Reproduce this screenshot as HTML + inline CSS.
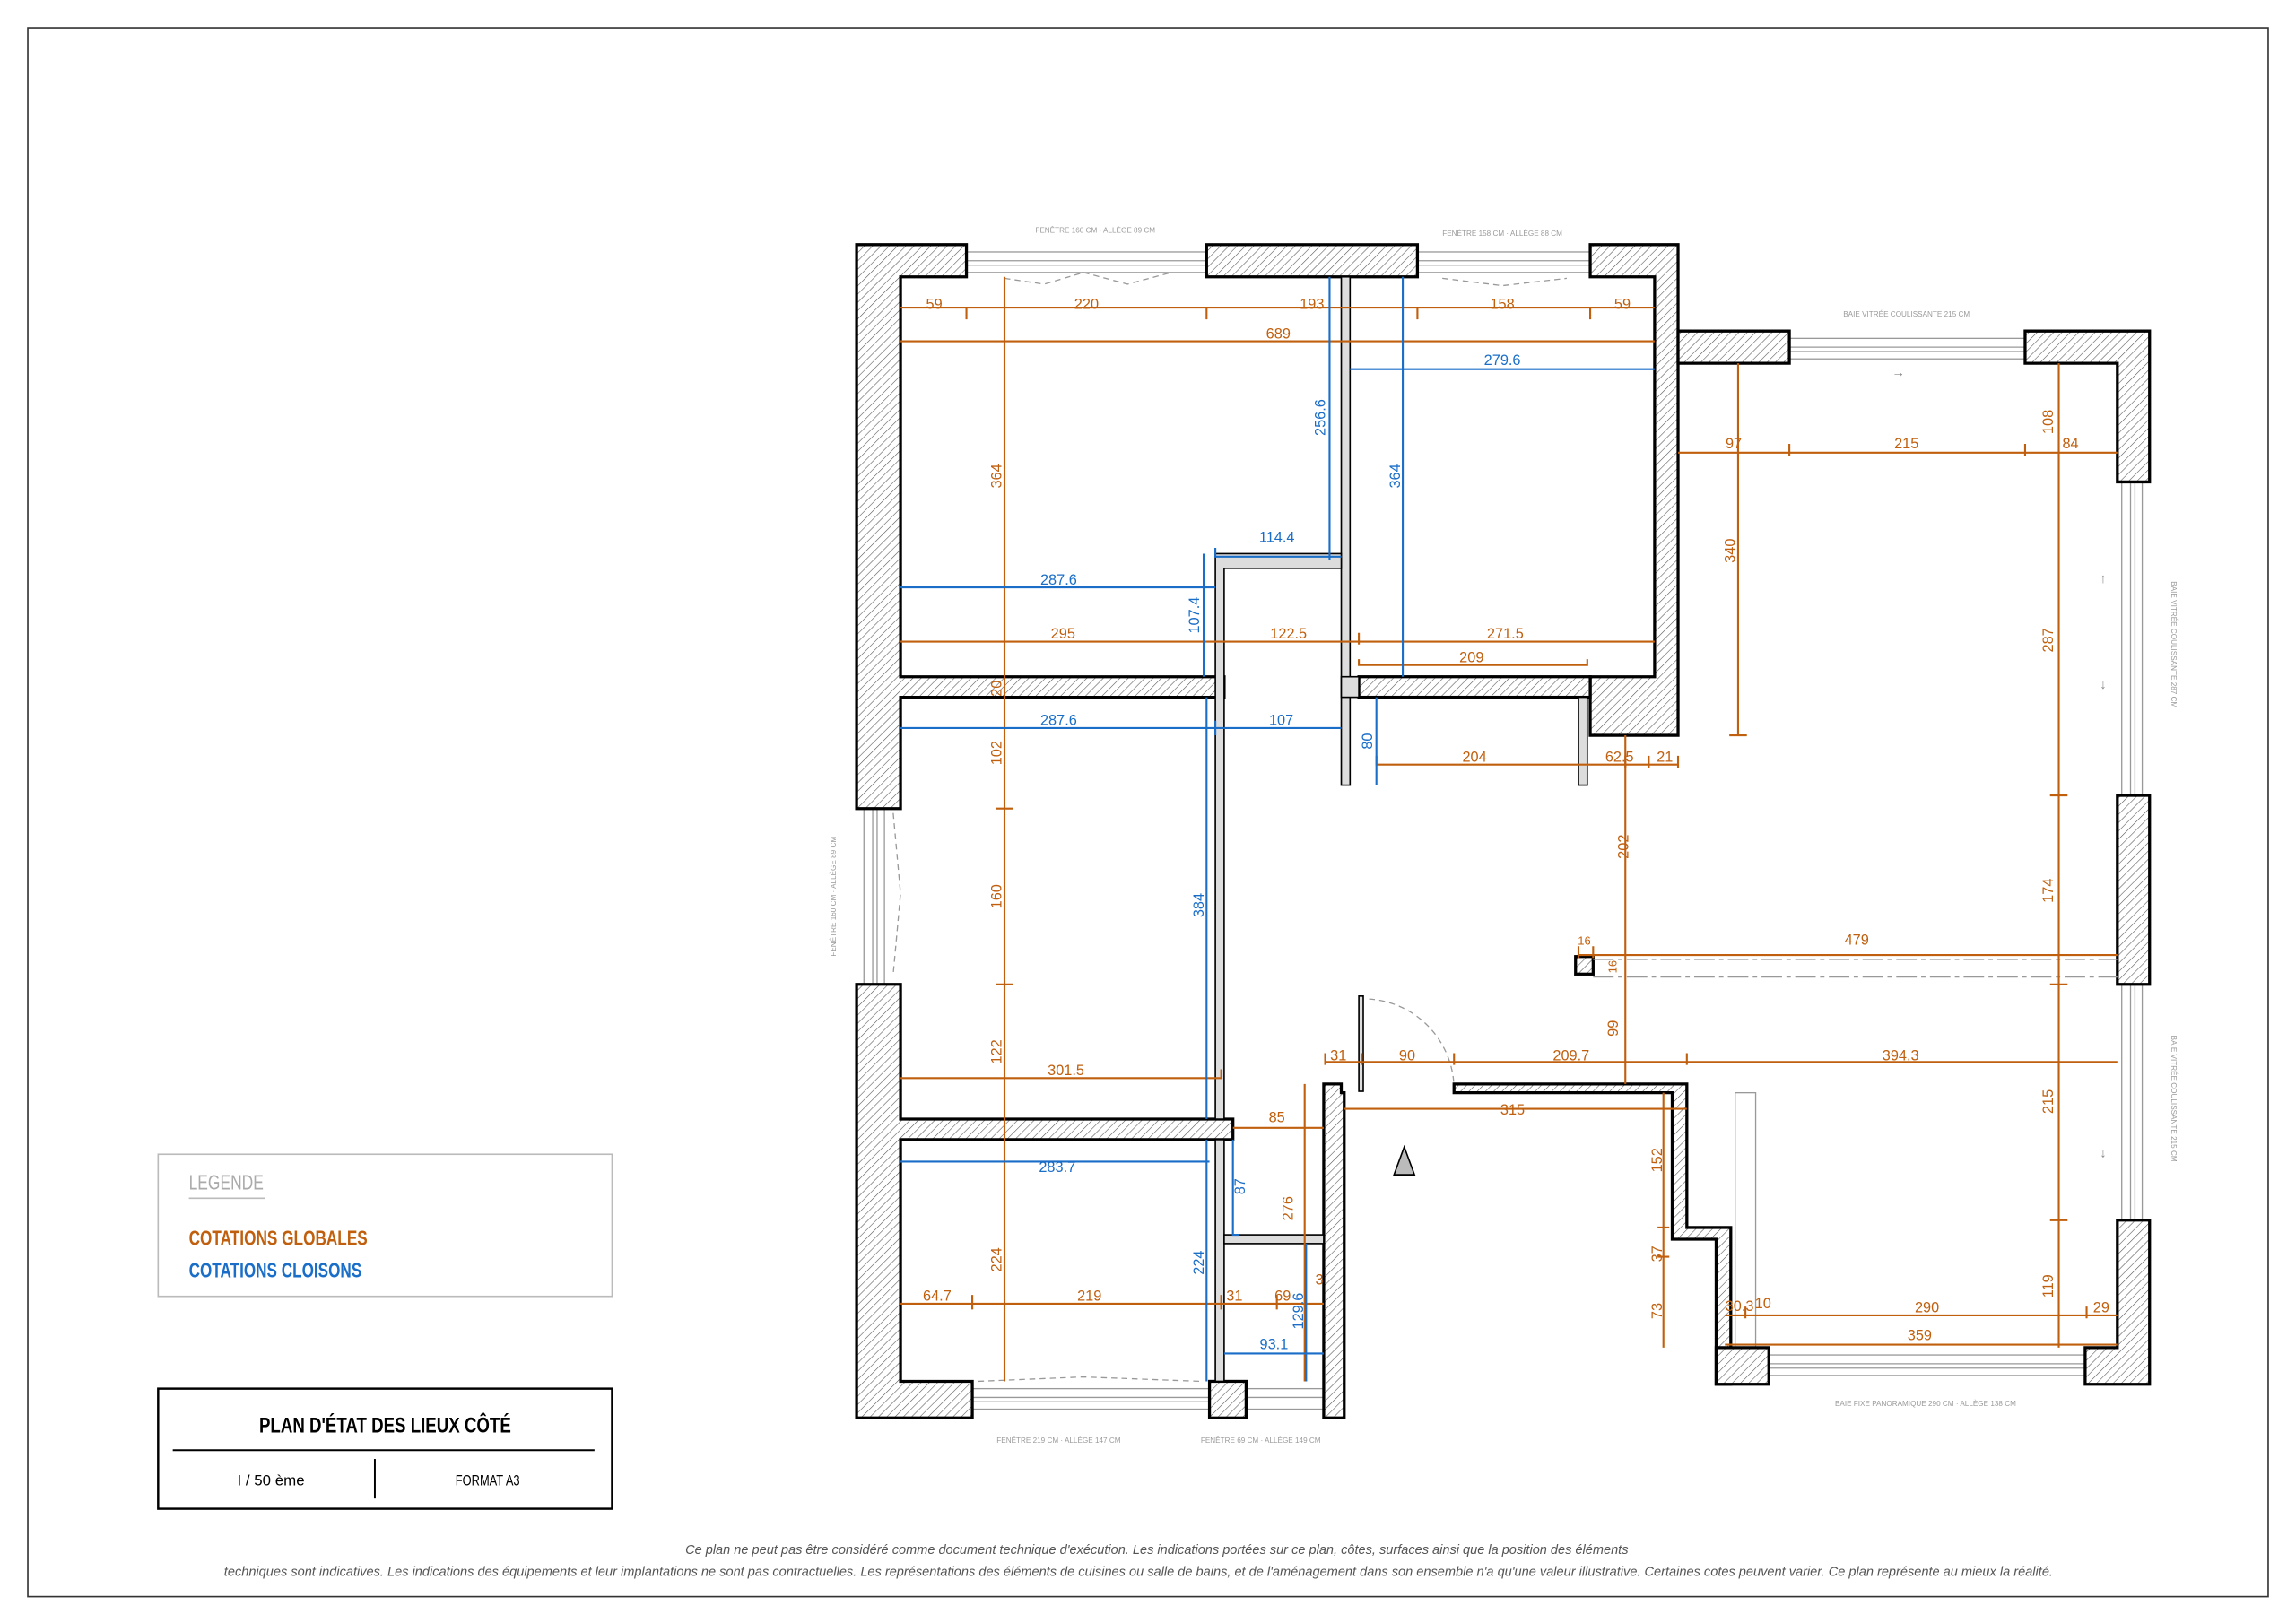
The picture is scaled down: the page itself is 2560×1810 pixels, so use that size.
<!DOCTYPE html>
<html><head><meta charset="utf-8"><style>
html,body{margin:0;padding:0;background:#fff;}
svg{display:block;}
text{font-family:"Liberation Sans Narrow","Liberation Sans",sans-serif;}
.o{fill:#c0600f;font-size:10px;}
.b{fill:#1a6ec8;font-size:10px;}
.g{fill:#9a9a9a;font-size:5px;}
.lo{stroke:#c0600f;stroke-width:1.3;fill:none;}
.lb{stroke:#1a6ec8;stroke-width:1.3;fill:none;}
.w{fill:url(#h);stroke:#000;stroke-width:2;}
.p{fill:#ddd;stroke:#000;stroke-width:1;}
.win{fill:#fff;stroke:#999;stroke-width:0.8;}
</style></head><body>
<svg width="2560" height="1810" viewBox="0 0 1568 1108" preserveAspectRatio="none" xmlns="http://www.w3.org/2000/svg">
<defs>
<pattern id="h" width="4" height="4" patternUnits="userSpaceOnUse" patternTransform="rotate(45)">
<rect width="4" height="4" fill="#fff"/><line x1="0" y1="0" x2="0" y2="4" stroke="#555" stroke-width="0.7"/>
</pattern>
</defs>
<rect x="19" y="19" width="1530" height="1071" fill="none" stroke="#333" stroke-width="1"/>

<g class="win">
<rect x="660" y="172" width="164" height="14"/><line x1="660" y1="178" x2="824" y2="178"/><line x1="660" y1="181" x2="824" y2="181"/>
<rect x="968" y="172" width="118" height="14"/><line x1="968" y1="178" x2="1086" y2="178"/><line x1="968" y1="181" x2="1086" y2="181"/>
<rect x="1222" y="231" width="161" height="14"/><line x1="1222" y1="237" x2="1383" y2="237"/><line x1="1222" y1="240" x2="1383" y2="240"/>
<rect x="1449" y="329" width="14" height="214"/><line x1="1455" y1="329" x2="1455" y2="543"/><line x1="1458" y1="329" x2="1458" y2="543"/>
<rect x="1449" y="672" width="14" height="161"/><line x1="1455" y1="672" x2="1455" y2="833"/><line x1="1458" y1="672" x2="1458" y2="833"/>
<rect x="590" y="552" width="14" height="120"/><line x1="596" y1="552" x2="596" y2="672"/><line x1="599" y1="552" x2="599" y2="672"/>
<rect x="664" y="948" width="162" height="14"/><line x1="664" y1="954" x2="826" y2="954"/><line x1="664" y1="957" x2="826" y2="957"/>
<rect x="851" y="948" width="55" height="14"/><line x1="851" y1="954" x2="906" y2="954"/>
<rect x="1208" y="925" width="216" height="14"/><line x1="1208" y1="931" x2="1424" y2="931"/><line x1="1208" y1="934" x2="1424" y2="934"/>
<rect x="1185" y="746" width="14" height="174"/>
</g>
<g stroke="#999" stroke-width="0.8" fill="none" stroke-dasharray="4,3">
<path d="M686 190 L713 194 L740 186 M740 186 L770 194 L800 186"/>
<path d="M985 190 L1026 195 L1070 190"/>
<path d="M668 943 L740 940 L820 943"/>
<path d="M610 555 L615 610 L610 665"/>
<path d="M935 682 A62 62 0 0 1 993 745"/>
</g>

<path class="w" d="M585 167 H660 V189 H615 V462 H836 V476 H615 V552 H585 Z"/>
<path class="w" d="M585 672 H615 V764 H842 V778 H615 V943 H664 V968 H585 Z"/>
<rect class="w" x="824" y="167" width="144" height="22"/>
<path class="w" d="M1086 167 H1146 V502 H1086 V462 H1130 V189 H1086 Z"/>
<rect class="w" x="928" y="462" width="158" height="14"/>
<path class="w" d="M1146 226 H1222 V248 H1146 Z"/>
<path class="w" d="M1383 226 H1468 V329 H1446 V248 H1383 Z"/>
<rect class="w" x="1446" y="543" width="22" height="129"/>
<path class="w" d="M1446 833 H1468 V945 H1424 V920 H1446 Z"/>
<rect class="w" x="826" y="943" width="25" height="25"/>
<path class="w" d="M904 740 H916 V746 H918 V968 H904 Z"/>
<path class="w" d="M993 740 H1152 V838 H1182 V945 H1172 V846 H1142 V746 H993 Z"/>
<rect class="w" x="1172" y="920" width="36" height="25"/>
<rect class="w" x="1076" y="653" width="12" height="12"/>
<rect class="p" x="916" y="189" width="6" height="347"/>
<rect class="p" x="916" y="462" width="12" height="14"/>
<path class="p" d="M830 378 H916 V388 H836 V764 H830 Z"/>
<rect class="p" x="830" y="778" width="6" height="165"/>
<rect class="p" x="836" y="843" width="68" height="6"/>
<rect class="p" x="1078" y="476" width="6" height="60"/>
<rect class="p" x="928" y="680" width="3" height="65"/>
<polygon points="959,783 952,802 966,802" fill="#bbb" stroke="#000" stroke-width="1"/>
<g stroke="#999" stroke-width="0.8" stroke-dasharray="14,3,3,3"><line x1="1088" y1="655" x2="1446" y2="655"/><line x1="1088" y1="667" x2="1446" y2="667"/></g>

<g class="lo">
<path d="M615 210 H1130 M660 210 v8 M824 210 v8 M968 210 v8 M1086 210 v8"/>
<path d="M615 233 H1130"/>
<path d="M686 189 V943 M680 552 h12 M680 672 h12"/>
<path d="M615 438 H1130 M928 432 v8"/>
<path d="M928 450 V454 H1084 V450"/>
<path d="M940 516 V522 H1146 M1110 516 v8 M1126 516 v8 M1146 516 v8"/>
<path d="M1110 502 V740"/>
<path d="M1078 652 H1446 M1078 646 v8 M1088 646 v8"/>
<path d="M905 725 H1446 M905 719 v8 M930 719 v8 M993 719 v8 M1152 719 v8"/>
<path d="M918 757 H1152"/>
<path d="M842 770 H904"/>
<path d="M891 740 V943"/>
<path d="M1136 746 V920 M1132 838 h8 M1132 858 h8"/>
<path d="M615 736 H834 V730"/>
<path d="M615 890 H904 M664 884 v10 M834 884 v10 M872 884 v10"/>
<path d="M1178 898 H1446 M1192 892 v8 M1425 892 v8"/>
<path d="M1178 918 H1446"/>
<path d="M1406 248 V920 M1400 543 h12 M1400 672 h12 M1400 833 h12"/>
<path d="M1146 309 H1446 M1222 303 v8 M1383 303 v8"/>
<path d="M1187 248 V502 M1181 502 h12"/>
</g>
<g class="o" text-anchor="middle">
<text x="638" y="211">59</text><text x="742" y="211">220</text><text x="896" y="211">193</text><text x="1026" y="211">158</text><text x="1108" y="211">59</text>
<text x="873" y="231">689</text>
<text x="726" y="436">295</text><text x="880" y="436">122.5</text><text x="1028" y="436">271.5</text>
<text x="1005" y="452">209</text>
<text x="1007" y="520">204</text><text x="1106" y="520">62.5</text><text x="1137" y="520">21</text>
<text x="1268" y="645">479</text><text x="1082" y="645" font-size="8">16</text>
<text x="914" y="724">31</text><text x="961" y="724">90</text><text x="1073" y="724">209.7</text><text x="1298" y="724">394.3</text>
<text x="1033" y="761">315</text><text x="872" y="766">85</text>
<text x="728" y="734">301.5</text>
<text x="640" y="888">64.7</text><text x="744" y="888">219</text><text x="843" y="888">31</text><text x="876" y="888">69</text><text x="901" y="877">3</text>
<text x="1188" y="895">30.3</text><text x="1204" y="893">10</text><text x="1316" y="896">290</text><text x="1435" y="896">29</text>
<text x="1311" y="915">359</text>
<text x="1184" y="306">97</text><text x="1302" y="306">215</text><text x="1414" y="306">84</text>
<text transform="translate(684,325) rotate(-90)">364</text>
<text transform="translate(684,470) rotate(-90)">20</text>
<text transform="translate(684,514) rotate(-90)">102</text>
<text transform="translate(684,612) rotate(-90)">160</text>
<text transform="translate(684,718) rotate(-90)">122</text>
<text transform="translate(684,860) rotate(-90)">224</text>
<text transform="translate(1112,578) rotate(-90)">202</text>
<text transform="translate(1105,702) rotate(-90)">99</text>
<text transform="translate(1104,660) rotate(-90)" font-size="8">16</text>
<text transform="translate(883,825) rotate(-90)">276</text>
<text transform="translate(1135,792) rotate(-90)">152</text>
<text transform="translate(1135,856) rotate(-90)">37</text>
<text transform="translate(1135,895) rotate(-90)">73</text>
<text transform="translate(1402,288) rotate(-90)">108</text>
<text transform="translate(1402,437) rotate(-90)">287</text>
<text transform="translate(1402,608) rotate(-90)">174</text>
<text transform="translate(1402,752) rotate(-90)">215</text>
<text transform="translate(1402,878) rotate(-90)">119</text>
<text transform="translate(1185,376) rotate(-90)">340</text>
</g>

<g class="lb">
<path d="M922 252 H1130"/>
<path d="M908 189 V382"/>
<path d="M958 189 V462"/>
<path d="M830 374 V380 H916"/>
<path d="M615 401 H830"/>
<path d="M822 378 V462"/>
<path d="M615 497 H916 M830 492 v10"/>
<path d="M940 476 V536"/>
<path d="M824 476 V764"/>
<path d="M615 793 H826"/>
<path d="M842 778 V843 H846"/>
<path d="M824 778 V943"/>
<path d="M836 924 H904"/>
<path d="M892 849 V943"/>
</g>
<g class="b" text-anchor="middle">
<text x="1026" y="249">279.6</text><text x="872" y="370">114.4</text>
<text x="723" y="399">287.6</text><text x="723" y="495">287.6</text><text x="875" y="495">107</text>
<text x="722" y="800">283.7</text><text x="870" y="921">93.1</text>
<text transform="translate(905,285) rotate(-90)">256.6</text>
<text transform="translate(956,325) rotate(-90)">364</text>
<text transform="translate(819,420) rotate(-90)">107.4</text>
<text transform="translate(937,506) rotate(-90)">80</text>
<text transform="translate(822,618) rotate(-90)">384</text>
<text transform="translate(850,810) rotate(-90)">87</text>
<text transform="translate(822,862) rotate(-90)">224</text>
<text transform="translate(890,895) rotate(-90)">129.6</text>
</g>

<g class="g" text-anchor="middle">
<text x="748" y="159">FENÊTRE 160 CM · ALLÈGE 89 CM</text>
<text x="1026" y="161">FENÊTRE 158 CM · ALLÈGE 88 CM</text>
<text x="1302" y="216">BAIE VITRÉE COULISSANTE 215 CM</text>
<text x="1315" y="960">BAIE FIXE PANORAMIQUE 290 CM · ALLÈGE 138 CM</text>
<text x="723" y="985">FENÊTRE 219 CM · ALLÈGE 147 CM</text>
<text x="861" y="985">FENÊTRE 69 CM · ALLÈGE 149 CM</text>
<text transform="translate(1483,440) rotate(90)">BAIE VITRÉE COULISSANTE 287 CM</text>
<text transform="translate(1483,750) rotate(90)">BAIE VITRÉE COULISSANTE 215 CM</text>
<text transform="translate(571,612) rotate(-90)">FENÊTRE 160 CM · ALLÈGE 89 CM</text>
</g>
<g fill="#888" font-size="9"><text x="1292" y="257">→</text><text x="1434" y="398">↑</text><text x="1434" y="470">↓</text><text x="1434" y="790">↓</text></g>

<rect x="108" y="788" width="310" height="97" fill="none" stroke="#bbb" stroke-width="1"/>
<text x="129" y="812" fill="#aaa" font-size="14" textLength="51" lengthAdjust="spacingAndGlyphs">LEGENDE</text>
<line x1="129" y1="818" x2="181" y2="818" stroke="#bbb" stroke-width="1"/>
<text x="129" y="850" fill="#c0600f" font-size="14" font-weight="bold" textLength="122" lengthAdjust="spacingAndGlyphs">COTATIONS GLOBALES</text>
<text x="129" y="872" fill="#1a6ec8" font-size="14" font-weight="bold" textLength="118" lengthAdjust="spacingAndGlyphs">COTATIONS CLOISONS</text>

<rect x="108" y="948" width="310" height="82" fill="none" stroke="#000" stroke-width="1.5"/>
<text x="177" y="978" font-size="15" font-weight="bold" fill="#000" textLength="172" lengthAdjust="spacingAndGlyphs">PLAN D'ÉTAT DES LIEUX CÔTÉ</text>
<line x1="118" y1="990" x2="406" y2="990" stroke="#000" stroke-width="1.2"/>
<line x1="256" y1="996" x2="256" y2="1023" stroke="#000" stroke-width="1.2"/>
<text x="162" y="1014" font-size="10" textLength="46" lengthAdjust="spacingAndGlyphs">I / 50 ème</text>
<text x="311" y="1014" font-size="10" textLength="44" lengthAdjust="spacingAndGlyphs">FORMAT A3</text>

<g fill="#555" font-size="9" font-style="italic">
<text x="468" y="1061" textLength="644" lengthAdjust="spacingAndGlyphs">Ce plan ne peut pas être considéré comme document technique d'exécution. Les indications portées sur ce plan, côtes, surfaces ainsi que la position des éléments</text>
<text x="153" y="1076" textLength="1249" lengthAdjust="spacingAndGlyphs">techniques sont indicatives. Les indications des équipements et leur implantations ne sont pas contractuelles. Les représentations des éléments de cuisines ou salle de bains, et de l'aménagement dans son ensemble n'a qu'une valeur illustrative. Certaines cotes peuvent varier. Ce plan représente au mieux la réalité.</text>
</g>
</svg>
</body></html>
